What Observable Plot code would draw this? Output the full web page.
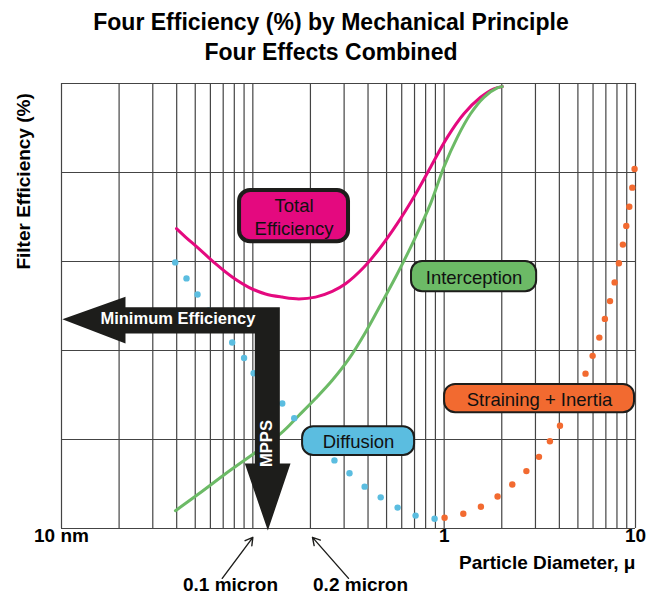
<!DOCTYPE html>
<html><head><meta charset="utf-8">
<script src="https://cdn.jsdelivr.net/npm/d3@7"></script>
<script src="https://cdn.jsdelivr.net/npm/@observablehq/plot@0.6"></script>
<style>
body{margin:0;background:#fff;font-family:"Liberation Sans",Arial,sans-serif;}
#title{height:70px;text-align:center;font-weight:bold;font-size:23px;line-height:30px;padding-top:7px;padding-left:16px;box-sizing:border-box;color:#000}
#chart svg{display:block}
</style></head><body>
<div id="title">Four Efficiency (%) by Mechanical Principle<br>Four Effects Combined</div>
<div id="chart"></div>
<script>
// grid
const gridX = [0.01,0.02,0.03,0.04,0.05,0.06,0.07,0.08,0.09,0.1,0.2,0.3,0.4,0.5,0.6,0.7,0.8,0.9,1,2,3,4,5,6,7,8,9,10];
const gridY = [0,20,40,60,80,100];
const tickValues = [0.01, 1, 10];
const tickLabels = ["10 nm", "1", "10"];

// Total efficiency curve
const totalX = [0.0399,0.0445,0.0522,0.0638,0.0780,0.0953,0.1165,0.1424,0.174,0.2127,0.2601,0.3052,0.3804,0.465,0.5685,0.6944,0.849,1.038,1.268,1.55,1.819,2.012];
const totalY = [67.4,65.5,62.9,59.5,56.5,54.2,52.7,52.0,51.6,52.0,53.3,55.0,58.7,63.2,68.5,74.5,81.2,87.9,93.2,96.9,98.8,99.3];
// Interception curve
const interX = [0.0394,0.0522,0.072,0.1396,0.174,0.2127,0.2601,0.3177,0.3882,0.4839,0.5685,0.6944,0.849,0.9964,1.171,1.374,1.613,1.895,2.012];
const interY = [4.0,7.8,12.3,21.3,25.4,29.2,33.3,38.1,44.1,51.6,57.2,64.7,73.0,81.2,87.9,93.2,96.9,99.0,99.3];
// Diffusion dots
const diffX = [0.0393,0.045,0.0514,0.059,0.0678,0.078,0.090,0.101,0.118,0.1425,0.1646,0.191,0.226,0.267,0.320,0.384,0.466,0.571,0.709,0.891];
const diffY = [59.8,56.2,52.6,49.0,45.4,41.8,38.3,34.9,31.5,28.1,24.8,21.7,18.5,15.3,12.4,9.4,7.0,4.7,2.9,2.2];
// Straining + Inertia dots
const strainX = [1.005,1.259,1.556,1.902,2.27,2.69,3.13,3.57,4.03,4.47,4.98,5.48,5.97,6.47,6.92,7.36,7.78,8.19,8.59,8.95,9.28,9.62,9.89];
const strainY = [2.4,3.3,4.9,7.2,9.9,12.9,16.1,19.6,23.1,27.0,30.8,34.8,38.8,42.9,47.1,51.1,55.3,59.6,63.8,68.0,72.3,76.6,80.8];

// Label boxes
const boxLabels = ["Total\nEfficiency", "Interception", "Diffusion", "Straining + Inertia"];
const boxX1 = [0.0832, 0.667, 0.1798, 0.993];
const boxX2 = [0.324, 3.08, 0.709, 10];
const boxY1 = [64.0, 53.0, 16.2, 25.8];
const boxY2 = [76.4, 60.2, 23.1, 32.6];
const boxFills = ["#e4097f", "#6cba66", "#5bbde0", "#f26a30"];
const boxStrokes = [4, 2, 2, 2];

// MPPS / minimum efficiency arrow outline (data coordinates)
const arrowX = [0.0101,0.0216,0.0216,0.1384,0.1384,0.1574,0.1198,0.0908,0.1024,0.1024,0.0216,0.0216,0.0101];
const arrowY = [47.0,52.1,49.7,49.7,14.6,14.6,-0.45,14.6,14.6,43.8,43.8,41.6,47.0];
const arrowLabels = ["Minimum Efficiency", "MPPS"];
const arrowLabelX = [0.0406, 0.1186];
const arrowLabelY = [47.2, 19.1];

// bottom annotations
const noteLabels = ["0.1 micron", "0.2 micron"];
const noteX = [0.0764, 0.3656];
const noteArrowX1 = [0.0692, 0.3164];
const noteArrowX2 = [0.1, 0.205];
const noteArrowY1 = [-11.2, -11.2];
const noteArrowY2 = [-2.0, -2.0];

// axis titles (position in data units)
const xTitle = "Particle Diameter, μ";
const yTitle = "Filter Efficiency (%)";
const yTitleX = 0.00633;
const yTitleY = 78.0;

const pts = (xs, ys) => xs.map((x, i) => ({x, y: ys[i]}));
const total = pts(totalX, totalY);
const inter = pts(interX, interY);
const diff = pts(diffX, diffY);
const strain = pts(strainX, strainY);
const arrowPoly = pts(arrowX, arrowY);
const ticks = tickValues.map((v, i) => ({v, label: tickLabels[i]}));
const notes = noteLabels.map((t, i) => ({t, x: noteX[i], x1: noteArrowX1[i], x2: noteArrowX2[i], y1: noteArrowY1[i], y2: noteArrowY2[i]}));

const DARK = "#1d1d1b";
const boxMarks = [];
boxLabels.forEach((label, i) => {
  const d = [{x1: boxX1[i], x2: boxX2[i], y1: boxY1[i], y2: boxY2[i], label}];
  boxMarks.push(Plot.rect(d, {x1: "x1", x2: "x2", y1: "y1", y2: "y2", fill: boxFills[i], stroke: DARK, strokeWidth: boxStrokes[i], rx: 11, inset: boxStrokes[i] / 2}));
  boxMarks.push(Plot.text(d, {x: r => Math.sqrt(r.x1 * r.x2), y: r => (r.y1 + r.y2) / 2, text: "label", fontSize: 18.5, lineHeight: 1.24, fill: "#111"}));
});

const chart = Plot.plot({
  width: 646, height: 529,
  marginLeft: 61, marginRight: 11, marginTop: 13, marginBottom: 71,
  x: {type: "log", domain: [0.01, 10], axis: null},
  y: {domain: [0, 100], axis: null},
  style: {fontFamily: "Liberation Sans, Arial, sans-serif", background: "white", overflow: "visible"},
  marks: [
    Plot.ruleX(gridX, {stroke: "#444", strokeWidth: 1.2}),
    Plot.ruleY(gridY, {stroke: "#444", strokeWidth: 1.2}),
    Plot.line(total, {x: "x", y: "y", stroke: "#e4097f", strokeWidth: 3, curve: "catmull-rom"}),
    Plot.line(inter, {x: "x", y: "y", stroke: "#6cba66", strokeWidth: 3, curve: "catmull-rom"}),
    Plot.dot(diff, {x: "x", y: "y", r: 3.2, fill: "#5bbde0", stroke: "none"}),
    Plot.dot(strain, {x: "x", y: "y", r: 3.2, fill: "#f26a30", stroke: "none"}),
    Plot.line(arrowPoly, {x: "x", y: "y", fill: DARK, stroke: "none", curve: "linear"}),
    Plot.text([arrowLabels[0]], {x: arrowLabelX[0], y: arrowLabelY[0], text: d => d, fill: "white", fontWeight: "bold", fontSize: 16.5}),
    Plot.text([arrowLabels[1]], {x: arrowLabelX[1], y: arrowLabelY[1], text: d => d, fill: "white", fontWeight: "bold", fontSize: 16.5, rotate: -90}),
    ...boxMarks,
    Plot.text(ticks, {x: "v", frameAnchor: "bottom", dy: 13.5, text: "label", fontWeight: "bold", fontSize: 19, fill: "#000"}),
    Plot.text([xTitle], {frameAnchor: "bottom-right", dy: 40, textAnchor: "end", text: d => d, fontWeight: "bold", fontSize: 19, fill: "#000"}),
    Plot.text([yTitle], {x: yTitleX, y: yTitleY, rotate: -90, text: d => d, fontWeight: "bold", fontSize: 19, fill: "#000"}),
    Plot.text(notes, {x: "x", frameAnchor: "bottom", dy: 62, text: "t", fontWeight: "bold", fontSize: 19, fill: "#000"}),
    Plot.arrow(notes, {x1: "x1", y1: "y1", x2: "x2", y2: "y2", stroke: DARK, strokeWidth: 1.4, headLength: 9, inset: 0})
  ]
});
document.getElementById("chart").appendChild(chart);
</script>
</body></html>
